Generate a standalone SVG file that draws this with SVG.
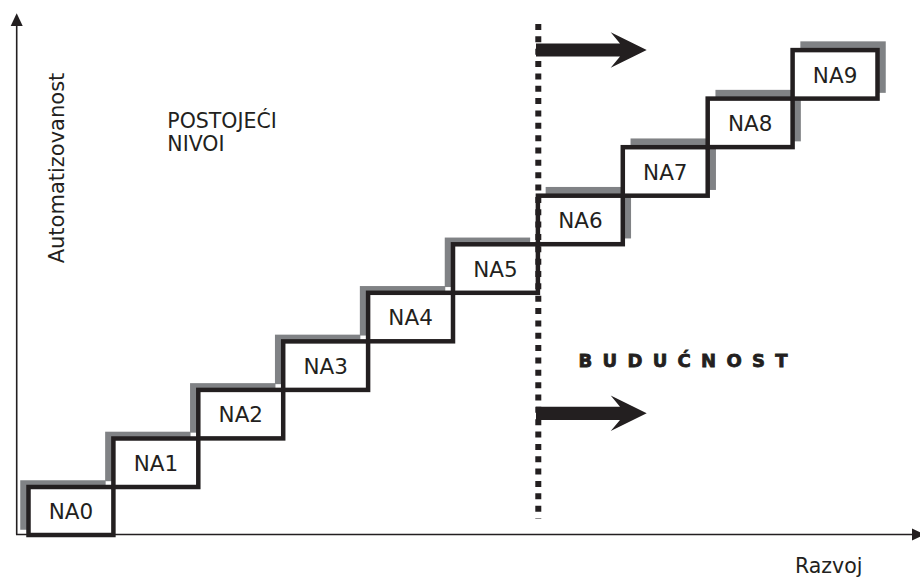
<svg xmlns="http://www.w3.org/2000/svg" width="920" height="578" viewBox="0 0 920 578">
<style>
.box{fill:#fff;stroke:#231f20;stroke-width:4.5}
.sh{fill:#808285}
.lbl{font-family:"DejaVu Sans",Verdana,sans-serif;font-size:21.5px;fill:#231f20;text-anchor:middle}
.txt{font-family:"DejaVu Sans",Verdana,sans-serif;fill:#231f20}
.axis{stroke:#231f20;stroke-width:1.6;fill:none}
</style>
<defs>
<path id="bigarrow" d="M536,-6.6 L620,-6.6 L610.7,-17.7 L646.7,0 L610.7,17.7 L620,6.6 L536,6.6 Z" fill="#231f20"/>
</defs>
<rect width="920" height="578" fill="#fff"/>
<g id="axes">
<line class="axis" x1="16.7" y1="534.5" x2="16.7" y2="24"/>
<polygon points="16.7,13.3 10.7,26 22.7,26" fill="#231f20"/>
<line class="axis" x1="16" y1="534.5" x2="914" y2="534.5"/>
<polygon points="912,528.5 925,534.5 912,540.5" fill="#231f20"/>
</g>
<g id="na0"><rect class="sh" x="20.25" y="480.25" width="85.4" height="49.5"/><rect class="box" x="28.5" y="487" width="84.9" height="48"/><text class="lbl" x="71" y="519.3">NA0</text></g>
<g id="na1"><rect class="sh" x="105.15" y="431.7" width="85.4" height="49.5"/><rect class="box" x="113.4" y="438.5" width="84.9" height="48.5"/><text class="lbl" x="155.9" y="471">NA1</text></g>
<g id="na2"><rect class="sh" x="190.05" y="383.15" width="85.4" height="49.5"/><rect class="box" x="198.3" y="389.9" width="84.9" height="48.5"/><text class="lbl" x="240.8" y="422.4">NA2</text></g>
<g id="na3"><rect class="sh" x="274.95" y="334.65" width="85.4" height="49.5"/><rect class="box" x="283.2" y="341.4" width="84.9" height="48.5"/><text class="lbl" x="325.7" y="373.9">NA3</text></g>
<g id="na4"><rect class="sh" x="359.85" y="286.05" width="85.4" height="49.5"/><rect class="box" x="368.1" y="292.8" width="84.9" height="48.5"/><text class="lbl" x="410.6" y="325.3">NA4</text></g>
<g id="na5"><rect class="sh" x="444.75" y="237.55" width="85.4" height="49.5"/><rect class="box" x="453" y="244.3" width="84.9" height="48.5"/><text class="lbl" x="495.5" y="276.8">NA5</text></g>
<g id="na6"><rect class="sh" x="545.65" y="186.95" width="85.4" height="51.5"/><rect class="box" x="537.9" y="195.7" width="84.9" height="48.5"/><text class="lbl" x="580.4" y="228.2">NA6</text></g>
<g id="na7"><rect class="sh" x="630.55" y="138.45" width="85.4" height="51.5"/><rect class="box" x="622.8" y="147.2" width="84.9" height="48.5"/><text class="lbl" x="665.3" y="179.7">NA7</text></g>
<g id="na8"><rect class="sh" x="715.45" y="89.85" width="85.4" height="51.5"/><rect class="box" x="707.7" y="98.6" width="84.9" height="48.5"/><text class="lbl" x="750.2" y="131.1">NA8</text></g>
<g id="na9"><rect class="sh" x="800.35" y="41.35" width="85.4" height="51.5"/><rect class="box" x="792.6" y="50.1" width="84.9" height="48.5"/><text class="lbl" x="835.1" y="82.6">NA9</text></g>
<g id="connectors">
<line x1="538.3" y1="24" x2="538.3" y2="518.5" stroke="#231f20" stroke-width="6" stroke-dasharray="6 6.35"/>
<use href="#bigarrow" transform="translate(0,50)"/>
<use href="#bigarrow" transform="translate(0,413.3)"/>
</g>
<g id="labels">
<text class="txt" font-size="21" text-anchor="middle" transform="translate(63.5,168) rotate(-90)">Automatizovanost</text>
<text class="txt" font-size="20.5" x="167.3" y="127.5">POSTOJEĆI</text>
<text class="txt" font-size="20.5" x="167.3" y="151">NIVOI</text>
<text class="txt" font-size="18" font-weight="bold" letter-spacing="10.3" stroke="#231f20" stroke-width="0.8" x="578.5" y="366.7">BUDUĆNOST</text>
<text class="txt" font-size="20.5" x="795" y="572.5">Razvoj</text>
</g>
</svg>
